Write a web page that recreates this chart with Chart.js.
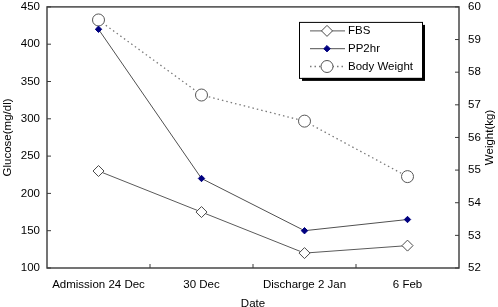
<!DOCTYPE html>
<html>
<head>
<meta charset="utf-8">
<script src="https://cdn.jsdelivr.net/npm/chart.js@4.4.0/dist/chart.umd.min.js"></script>
<style>
  html, body { margin: 0; padding: 0; overflow: hidden; background: #fff; }
  #wrap { width: 498px; height: 314px; }
</style>
</head>
<body>
<div id="wrap"><canvas id="grafico"></canvas></div>
<script>
// Datos
const fechas = ['Admission 24 Dec', '30 Dec', 'Discharge 2 Jan', '6 Feb'];
const fbs = [230, 175, 120, 130];
const pp2hr = [420, 220, 150, 165];
const pesoCorporal = [59.6, 57.3, 56.5, 54.8];
const escalaGlucosa = [100, 450, 50];
const escalaPeso = [52, 60, 1];

const fuente = '"Liberation Sans", Arial, sans-serif';
Chart.defaults.font.family = fuente;
Chart.defaults.font.size = 11.5;
Chart.defaults.color = '#000';

const colorMarco = '#3a3a3a';

// Marco del área y marcas hacia adentro
const marco = {
    id: 'marco',
    beforeDatasetsDraw(chart) {
        const ctx = chart.ctx;
        const a = chart.chartArea;
        ctx.save();
        ctx.strokeStyle = colorMarco;
        ctx.lineWidth = 1.4;
        ctx.strokeRect(a.left, a.top, a.right - a.left, a.bottom - a.top);
        ctx.lineWidth = 1;
        ctx.beginPath();
        const x = chart.scales.x;
        for (let i = 0; i < fechas.length - 1; i++) {
            const px = (x.getPixelForTick(i) + x.getPixelForTick(i + 1)) / 2;
            ctx.moveTo(px, a.bottom);
            ctx.lineTo(px, a.bottom - 4);
        }
        chart.scales.y.ticks.forEach(t => {
            const py = chart.scales.y.getPixelForValue(t.value);
            ctx.moveTo(a.left, py);
            ctx.lineTo(a.left + 4, py);
        });
        chart.scales.y1.ticks.forEach(t => {
            const py = chart.scales.y1.getPixelForValue(t.value);
            ctx.moveTo(a.right, py);
            ctx.lineTo(a.right - 4, py);
        });
        ctx.stroke();
        ctx.restore();
    },
    afterDraw(chart) {
        const ctx = chart.ctx;
        const a = chart.chartArea;
        // título del eje derecho, leído de abajo hacia arriba
        ctx.save();
        ctx.font = '11.5px ' + fuente;
        ctx.fillStyle = '#000';
        ctx.textAlign = 'center';
        ctx.textBaseline = 'middle';
        ctx.translate(chart.width - 8, (a.top + a.bottom) / 2);
        ctx.rotate(-Math.PI / 2);
        ctx.fillText('Weight(kg)', 0, 0);
        ctx.restore();

        // leyenda dentro del área
        const lx = a.left + 252, ly = a.top + 15, lw = 123, lh = 56;
        ctx.save();
        ctx.fillStyle = '#000';
        ctx.fillRect(lx + 3, ly + 3, lw, lh);
        ctx.fillStyle = '#fff';
        ctx.fillRect(lx, ly, lw, lh);
        ctx.strokeStyle = '#000';
        ctx.lineWidth = 1;
        ctx.strokeRect(lx + 0.5, ly + 0.5, lw, lh);
        chart.data.datasets.forEach((ds, i) => {
            const yy = ly + 9 + i * 17.8;
            ctx.strokeStyle = ds.borderColor;
            ctx.lineWidth = ds.borderWidth;
            ctx.setLineDash(ds.borderDash || []);
            ctx.beginPath();
            ctx.moveTo(lx + 11, yy);
            ctx.lineTo(lx + 46, yy);
            ctx.stroke();
            ctx.setLineDash([]);
            ctx.fillStyle = ds.pointBackgroundColor;
            ctx.strokeStyle = ds.pointBorderColor;
            ctx.lineWidth = ds.pointBorderWidth;
            Chart.helpers.drawPoint(ctx, {
                pointStyle: ds.pointStyle,
                radius: ds.pointRadius,
                rotation: 0,
                borderWidth: ds.pointBorderWidth
            }, lx + 28, yy);
            ctx.fillStyle = '#000';
            ctx.font = '11.5px ' + fuente;
            ctx.textBaseline = 'middle';
            ctx.fillText(ds.label, lx + 49, yy);
        });
        ctx.restore();
    }
};

// rejilla invisible: solo sirve para separar las etiquetas del eje
const rejillaOculta = { display: true, drawOnChartArea: false, drawTicks: true, tickColor: 'rgba(0,0,0,0)' };

const ctx = document.getElementById('grafico').getContext('2d');
const grafico = new Chart(ctx, {
    type: 'line',
    data: {
        labels: fechas,
        datasets: [{
            label: 'FBS',
            data: fbs,
            yAxisID: 'y',
            borderColor: '#5a5a5a',
            borderWidth: 1,
            pointStyle: 'rectRot',
            pointRadius: 5.5,
            pointBackgroundColor: '#fff',
            pointBorderColor: '#4a4a4a',
            pointBorderWidth: 1
        }, {
            label: 'PP2hr',
            data: pp2hr,
            yAxisID: 'y',
            borderColor: '#505050',
            borderWidth: 1,
            pointStyle: 'rectRot',
            pointRadius: 3.2,
            pointBackgroundColor: '#000080',
            pointBorderColor: '#000080',
            pointBorderWidth: 1
        }, {
            label: 'Body Weight',
            data: pesoCorporal,
            yAxisID: 'y1',
            borderColor: '#7a7a7a',
            borderWidth: 1.3,
            borderDash: [1.5, 3],
            pointStyle: 'circle',
            pointRadius: 6,
            pointBackgroundColor: '#fff',
            pointBorderColor: '#555',
            pointBorderWidth: 1
        }]
    },
    options: {
        responsive: true,
        maintainAspectRatio: false,
        animation: false,
        layout: { autoPadding: false, padding: { top: 6 } },
        plugins: {
            legend: { display: false },
            tooltip: { enabled: false }
        },
        elements: { line: { tension: 0 } },
        scales: {
            x: {
                offset: true,
                grid: { display: false, drawTicks: false },
                border: { display: false },
                ticks: { padding: 10, maxRotation: 0, autoSkip: false },
                title: { display: true, text: 'Date', padding: { top: 0, bottom: 3 } },
                afterFit(s) { s.height = 46; }
            },
            y: {
                position: 'left',
                min: escalaGlucosa[0],
                max: escalaGlucosa[1],
                grid: Object.assign({ tickLength: 7 }, rejillaOculta),
                border: { display: false },
                ticks: { stepSize: escalaGlucosa[2], padding: 0 },
                title: { display: true, text: 'Glucose(mg/dl)', padding: { top: 1, bottom: 0 } },
                afterFit(s) { s.width = 47; }
            },
            y1: {
                position: 'right',
                min: escalaPeso[0],
                max: escalaPeso[1],
                grid: Object.assign({ tickLength: 9 }, rejillaOculta),
                border: { display: false },
                ticks: { stepSize: escalaPeso[2], padding: 0 },
                afterFit(s) { s.width = 39; }
            }
        }
    },
    plugins: [marco]
});
</script>
</body>
</html>
